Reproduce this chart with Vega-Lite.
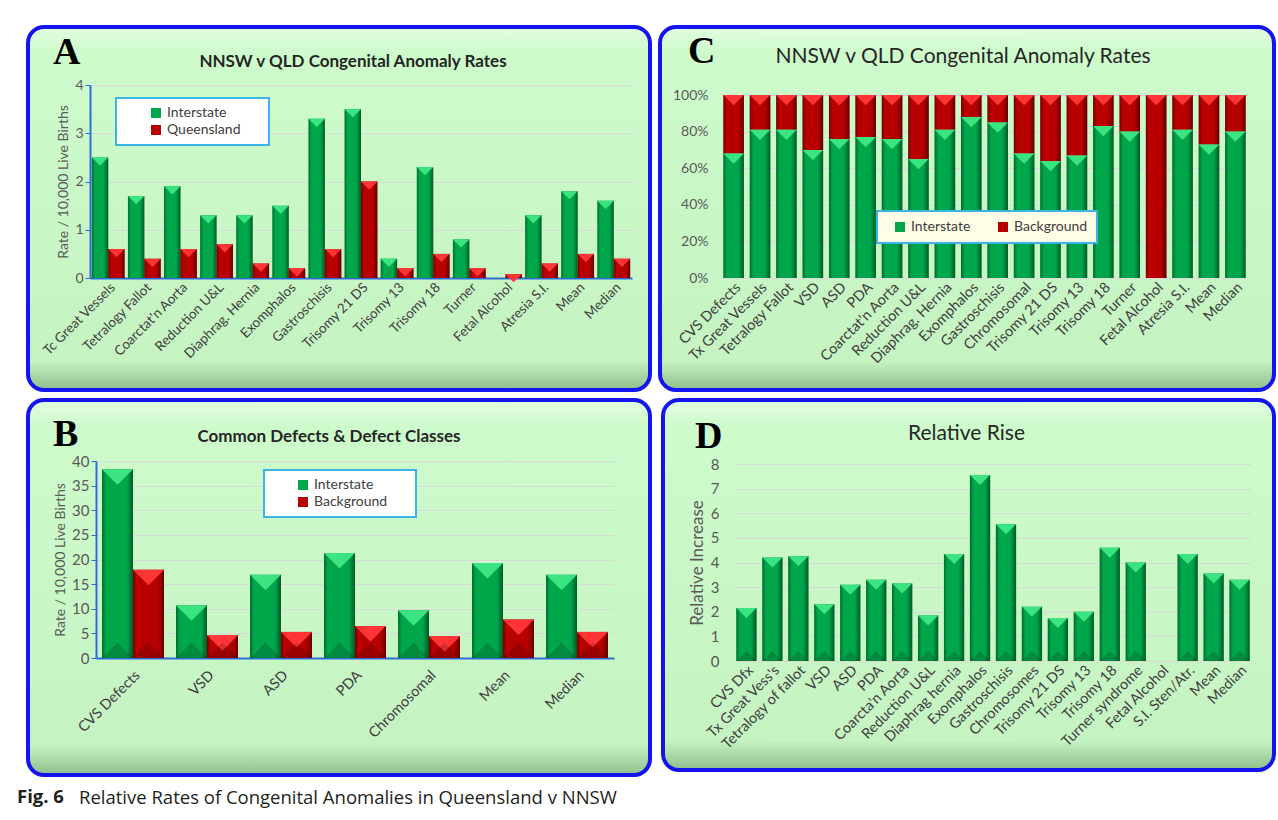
{
  "$schema": "https://vega.github.io/schema/vega-lite/v6.json",
  "background": "white",
  "padding": {"left": 17, "top": 25, "right": 0, "bottom": 0},
  "config": {
    "view": {
      "fill": {"gradient": "linear", "x1": 0, "y1": 0, "x2": 0, "y2": 1,
        "stops": [{"offset": 0, "color": "#e2fde0"}, {"offset": 0.07, "color": "#cefbcb"}, {"offset": 0.92, "color": "#c6f3c2"}, {"offset": 1, "color": "#8fbd8b"}]},
      "stroke": "#1414f0", "strokeWidth": 4, "cornerRadius": 16
    },
    "axis": {"labelFont": "Lato", "titleFont": "Lato", "labelColor": "#595959", "titleColor": "#595959", "titleFontWeight": "normal", "gridColor": "#d9d9d9", "labelFontSize": 14, "titleFontSize": 14},
    "axisX": {"labelAngle": -45, "ticks": false, "grid": false, "labelColor": "#404040", "labelFontSize": 13.5, "title": null},
    "legend": {"orient": "none", "title": null, "fillColor": "white", "strokeColor": "#3db4e6", "strokeWidth": 2, "padding": 8, "labelFont": "Lato", "labelFontSize": 14, "labelColor": "#404040", "symbolType": "square", "symbolSize": 100, "rowPadding": 3, "symbolStrokeWidth": 0},
    "title": {"font": "Lato", "color": "#262626"}
  },
  "datasets": {
    "rates": [
      {"cat": "Tc Great Vessels", "series": "Interstate", "value": 2.5},
      {"cat": "Tc Great Vessels", "series": "Queensland", "value": 0.6},
      {"cat": "Tetralogy Fallot", "series": "Interstate", "value": 1.7},
      {"cat": "Tetralogy Fallot", "series": "Queensland", "value": 0.4},
      {"cat": "Coarctat'n Aorta", "series": "Interstate", "value": 1.9},
      {"cat": "Coarctat'n Aorta", "series": "Queensland", "value": 0.6},
      {"cat": "Reduction U&L", "series": "Interstate", "value": 1.3},
      {"cat": "Reduction U&L", "series": "Queensland", "value": 0.7},
      {"cat": "Diaphrag. Hernia", "series": "Interstate", "value": 1.3},
      {"cat": "Diaphrag. Hernia", "series": "Queensland", "value": 0.3},
      {"cat": "Exomphalos", "series": "Interstate", "value": 1.5},
      {"cat": "Exomphalos", "series": "Queensland", "value": 0.2},
      {"cat": "Gastroschisis", "series": "Interstate", "value": 3.3},
      {"cat": "Gastroschisis", "series": "Queensland", "value": 0.6},
      {"cat": "Trisomy 21 DS", "series": "Interstate", "value": 3.5},
      {"cat": "Trisomy 21 DS", "series": "Queensland", "value": 2.0},
      {"cat": "Trisomy 13", "series": "Interstate", "value": 0.4},
      {"cat": "Trisomy 13", "series": "Queensland", "value": 0.2},
      {"cat": "Trisomy 18", "series": "Interstate", "value": 2.3},
      {"cat": "Trisomy 18", "series": "Queensland", "value": 0.5},
      {"cat": "Turner", "series": "Interstate", "value": 0.8},
      {"cat": "Turner", "series": "Queensland", "value": 0.2},
      {"cat": "Fetal Alcohol", "series": "Interstate", "value": 0},
      {"cat": "Fetal Alcohol", "series": "Queensland", "value": 0.08},
      {"cat": "Atresia S.I.", "series": "Interstate", "value": 1.3},
      {"cat": "Atresia S.I.", "series": "Queensland", "value": 0.3},
      {"cat": "Mean", "series": "Interstate", "value": 1.8},
      {"cat": "Mean", "series": "Queensland", "value": 0.5},
      {"cat": "Median", "series": "Interstate", "value": 1.6},
      {"cat": "Median", "series": "Queensland", "value": 0.4}
    ],
    "common": [
      {"cat": "CVS Defects", "series": "Interstate", "value": 38.3},
      {"cat": "CVS Defects", "series": "Background", "value": 17.9},
      {"cat": "VSD", "series": "Interstate", "value": 10.7},
      {"cat": "VSD", "series": "Background", "value": 4.6},
      {"cat": "ASD", "series": "Interstate", "value": 16.9},
      {"cat": "ASD", "series": "Background", "value": 5.3},
      {"cat": "PDA", "series": "Interstate", "value": 21.3},
      {"cat": "PDA", "series": "Background", "value": 6.5},
      {"cat": "Chromosomal", "series": "Interstate", "value": 9.7},
      {"cat": "Chromosomal", "series": "Background", "value": 4.4},
      {"cat": "Mean", "series": "Interstate", "value": 19.3},
      {"cat": "Mean", "series": "Background", "value": 7.8},
      {"cat": "Median", "series": "Interstate", "value": 16.9},
      {"cat": "Median", "series": "Background", "value": 5.3}
    ],
    "share": [
      {"cat": "CVS Defects", "series": "Interstate", "value": 68},
      {"cat": "CVS Defects", "series": "Background", "value": 32},
      {"cat": "Tx Great Vessels", "series": "Interstate", "value": 81},
      {"cat": "Tx Great Vessels", "series": "Background", "value": 19},
      {"cat": "Tetralogy Fallot", "series": "Interstate", "value": 81},
      {"cat": "Tetralogy Fallot", "series": "Background", "value": 19},
      {"cat": "VSD", "series": "Interstate", "value": 70},
      {"cat": "VSD", "series": "Background", "value": 30},
      {"cat": "ASD", "series": "Interstate", "value": 76},
      {"cat": "ASD", "series": "Background", "value": 24},
      {"cat": "PDA", "series": "Interstate", "value": 77},
      {"cat": "PDA", "series": "Background", "value": 23},
      {"cat": "Coarctat'n Aorta", "series": "Interstate", "value": 76},
      {"cat": "Coarctat'n Aorta", "series": "Background", "value": 24},
      {"cat": "Reduction U&L", "series": "Interstate", "value": 65},
      {"cat": "Reduction U&L", "series": "Background", "value": 35},
      {"cat": "Diaphrag. Hernia", "series": "Interstate", "value": 81},
      {"cat": "Diaphrag. Hernia", "series": "Background", "value": 19},
      {"cat": "Exomphalos", "series": "Interstate", "value": 88},
      {"cat": "Exomphalos", "series": "Background", "value": 12},
      {"cat": "Gastroschisis", "series": "Interstate", "value": 85},
      {"cat": "Gastroschisis", "series": "Background", "value": 15},
      {"cat": "Chromosomal", "series": "Interstate", "value": 68},
      {"cat": "Chromosomal", "series": "Background", "value": 32},
      {"cat": "Trisomy 21 DS", "series": "Interstate", "value": 64},
      {"cat": "Trisomy 21 DS", "series": "Background", "value": 36},
      {"cat": "Trisomy 13", "series": "Interstate", "value": 67},
      {"cat": "Trisomy 13", "series": "Background", "value": 33},
      {"cat": "Trisomy 18", "series": "Interstate", "value": 83},
      {"cat": "Trisomy 18", "series": "Background", "value": 17},
      {"cat": "Turner", "series": "Interstate", "value": 80},
      {"cat": "Turner", "series": "Background", "value": 20},
      {"cat": "Fetal Alcohol", "series": "Interstate", "value": 0},
      {"cat": "Fetal Alcohol", "series": "Background", "value": 100},
      {"cat": "Atresia S.I.", "series": "Interstate", "value": 81},
      {"cat": "Atresia S.I.", "series": "Background", "value": 19},
      {"cat": "Mean", "series": "Interstate", "value": 73},
      {"cat": "Mean", "series": "Background", "value": 27},
      {"cat": "Median", "series": "Interstate", "value": 80},
      {"cat": "Median", "series": "Background", "value": 20}
    ],
    "rise": [
      {"cat": "CVS Dfx", "value": 2.15},
      {"cat": "Tx Great Vess's", "value": 4.2},
      {"cat": "Tetralogy of fallot", "value": 4.25},
      {"cat": "VSD", "value": 2.3},
      {"cat": "ASD", "value": 3.1},
      {"cat": "PDA", "value": 3.3},
      {"cat": "Coarcta'n Aorta", "value": 3.15},
      {"cat": "Reduction U&L", "value": 1.85},
      {"cat": "Diaphrag hernia", "value": 4.35},
      {"cat": "Exomphalos", "value": 7.55},
      {"cat": "Gastroschisis", "value": 5.55},
      {"cat": "Chromosomes", "value": 2.2},
      {"cat": "Trisomy 21 DS", "value": 1.75},
      {"cat": "Trisomy 13", "value": 2.0},
      {"cat": "Trisomy 18", "value": 4.6},
      {"cat": "Turner syndrome", "value": 4.0},
      {"cat": "Fetal Alcohol", "value": 0},
      {"cat": "S.I. Sten/Atr.", "value": 4.35},
      {"cat": "Mean", "value": 3.55},
      {"cat": "Median", "value": 3.3}
    ]
  },
  "title": {"text": "Fig. 6", "orient": "bottom", "anchor": "start", "dx": -9, "dy": -20, "offset": 0, "font": "Open Sans", "fontSize": 18.5, "fontWeight": "bold", "color": "#231f20"},
  "spacing": 6,
  "resolve": {"scale": {"color": "independent", "fill": "independent"}, "legend": {"color": "independent"}},
  "vconcat": [
    {
      "spacing": 6,
      "resolve": {"scale": {"color": "independent", "fill": "independent"}, "legend": {"color": "independent"}},
      "hconcat": [
        {
          "title": {"text": "A", "anchor": "start", "offset": -47, "dx": 27, "font": "Liberation Serif", "fontSize": 38, "fontWeight": "bold", "color": "black"},
          "vconcat": [
            {
              "width": 622,
              "height": 363,
              "title": {"text": "NNSW v QLD Congenital Anomaly Rates", "fontWeight": "bold", "fontSize": 17, "offset": -44, "dx": 14},
              "data": {"name": "rates"},
              "encoding": {
                "x": {"field": "cat", "type": "nominal", "sort": null, "scale": {"range": [62, 604], "paddingInner": 0.09, "paddingOuter": 0.05}, "axis": {"offset": -112, "domainColor": "#2f6ed8", "domainWidth": 2}},
                "y": {"field": "value", "type": "quantitative", "scale": {"domain": [0, 4], "range": [251, 58], "nice": false}, "axis": {"title": "Rate / 10,000 Live Births", "tickCount": 4, "offset": -62, "domainColor": "#2f6ed8", "domainWidth": 2, "tickColor": "#2f6ed8", "tickSize": 5}}
              },
              "layer": [
                {
                  "transform": [{"filter": "datum.series == 'Interstate'"}],
                  "mark": {"type": "bar", "width": 16.4, "xOffset": -8.2},
                  "encoding": {
                    "color": {"field": "series", "type": "nominal", "scale": {"domain": ["Interstate", "Queensland"], "range": ["#00a64a", "#b80000"]},
                      "legend": {"legendX": 88, "legendY": 71, "symbolOffset": 25, "labelExpr": "datum.label + '\u2800\u2800'"}}
                  }
                },
                {
                  "transform": [{"filter": "datum.series == 'Queensland'"}],
                  "mark": {"type": "bar", "width": 16.4, "xOffset": 8.2},
                  "encoding": {"color": {"field": "series", "type": "nominal"}}
                },
                {
                  "transform": [{"filter": "datum.series == 'Interstate'"}],
                  "mark": {"type": "bar", "width": 16.4, "xOffset": -8.2, "color": {"gradient": "linear", "x1": 0, "y1": 0, "x2": 1, "y2": 0, "stops": [{"offset": 0, "color": "rgba(0,0,0,0.35)"}, {"offset": 0.18, "color": "rgba(0,0,0,0)"}, {"offset": 0.72, "color": "rgba(0,0,0,0)"}, {"offset": 1, "color": "rgba(0,0,0,0.45)"}]}}
                },
                {
                  "transform": [{"filter": "datum.series == 'Queensland'"}],
                  "mark": {"type": "bar", "width": 16.4, "xOffset": 8.2, "color": {"gradient": "linear", "x1": 0, "y1": 0, "x2": 1, "y2": 0, "stops": [{"offset": 0, "color": "rgba(0,0,0,0.35)"}, {"offset": 0.18, "color": "rgba(0,0,0,0)"}, {"offset": 0.72, "color": "rgba(0,0,0,0)"}, {"offset": 1, "color": "rgba(0,0,0,0.45)"}]}}
                },
                {
                  "transform": [{"filter": "datum.series == 'Interstate' && datum.value > 0"}],
                  "mark": {"type": "point", "shape": "M-1,0L1,0L0,1Z", "filled": true, "size": 269, "opacity": 1, "strokeWidth": 0, "xOffset": -8.2, "color": "#3ae481"}
                },
                {
                  "transform": [{"filter": "datum.series == 'Queensland' && datum.value > 0"}],
                  "mark": {"type": "point", "shape": "M-1,0L1,0L0,1Z", "filled": true, "size": 269, "opacity": 1, "strokeWidth": 0, "xOffset": 8.2, "color": "#ff3535"}
                }
              ]
            }
          ]
        },
        {
          "title": {"text": "C", "anchor": "start", "offset": -46, "dx": 30, "font": "Liberation Serif", "fontSize": 38, "fontWeight": "bold", "color": "black"},
          "vconcat": [
            {
              "width": 614,
              "height": 363,
              "title": {"text": "NNSW v QLD Congenital Anomaly Rates", "fontWeight": "normal", "fontSize": 21, "offset": -40, "dx": -4},
              "data": {"name": "share"},
              "transform": [
                {"stack": "value", "groupby": ["cat"], "sort": [{"field": "series", "order": "descending"}], "offset": "normalize", "as": ["y0", "y1"]}
              ],
              "encoding": {
                "x": {"field": "cat", "type": "nominal", "sort": null, "scale": {"range": [62, 587], "paddingInner": 0.22, "paddingOuter": 0.05}, "axis": {"offset": -112, "domainColor": "#d9d9d9", "labelFontSize": 14.5}},
                "y": {"field": "y1", "type": "quantitative", "scale": {"domain": [0, 1], "range": [251, 68], "nice": false}, "axis": {"title": null, "format": ".0%", "tickCount": 5, "offset": -62, "domain": false, "ticks": false, "labelPadding": 14, "gridColor": "#e2d4e0"}}
              },
              "layer": [
                {
                  "mark": {"type": "bar"},
                  "encoding": {
                    "y2": {"field": "y0"},
                    "color": {"field": "series", "type": "nominal", "scale": {"domain": ["Interstate", "Background"], "range": ["#00a64a", "#b80000"]},
                      "legend": {"direction": "horizontal", "legendX": 217, "legendY": 184, "fillColor": "#fffde6", "symbolOffset": 7, "columnPadding": 18, "padding": 9}}
                  }
                },
                {
                  "mark": {"type": "bar", "color": {"gradient": "linear", "x1": 0, "y1": 0, "x2": 1, "y2": 0, "stops": [{"offset": 0, "color": "rgba(0,0,0,0.35)"}, {"offset": 0.18, "color": "rgba(0,0,0,0)"}, {"offset": 0.72, "color": "rgba(0,0,0,0)"}, {"offset": 1, "color": "rgba(0,0,0,0.45)"}]}},
                  "encoding": {"y2": {"field": "y0"}}
                },
                {
                  "transform": [{"filter": "datum.value > 0"}],
                  "mark": {"type": "point", "shape": "M-1,0L1,0L0,1Z", "filled": true, "size": 420, "opacity": 1, "strokeWidth": 0},
                  "encoding": {"fill": {"field": "series", "type": "nominal", "scale": {"domain": ["Interstate", "Background"], "range": ["#3ae481", "#ff3535"]}, "legend": null}}
                }
              ]
            }
          ]
        }
      ]
    },
    {
      "spacing": 9,
      "resolve": {"scale": {"color": "independent", "fill": "independent"}, "legend": {"color": "independent"}},
      "title": {"text": "Relative Rates of Congenital Anomalies in Queensland v NNSW", "orient": "bottom", "anchor": "start", "dx": 53, "offset": 12, "font": "Open Sans", "fontSize": 18.5, "fontWeight": "normal", "color": "#231f20"},
      "hconcat": [
        {
          "title": {"text": "B", "anchor": "start", "offset": -56, "dx": 27, "font": "Liberation Serif", "fontSize": 38, "fontWeight": "bold", "color": "black"},
          "vconcat": [
            {
              "width": 622,
              "height": 375,
              "title": {"text": "Common  Defects & Defect Classes", "fontWeight": "bold", "fontSize": 17, "offset": -46, "dx": -10},
              "data": {"name": "common"},
              "encoding": {
                "x": {"field": "cat", "type": "nominal", "sort": null, "scale": {"range": [68, 586], "paddingInner": 0.16, "paddingOuter": 0.08}, "axis": {"offset": -117, "domainColor": "#2f6ed8", "domainWidth": 2, "labelPadding": 10, "labelFontSize": 14.5}},
                "y": {"field": "value", "type": "quantitative", "scale": {"domain": [0, 40], "range": [258, 61], "nice": false}, "axis": {"title": "Rate / 10,000 Live Births", "tickCount": 8, "offset": -68, "domainColor": "#2f6ed8", "domainWidth": 2, "tickColor": "#2f6ed8", "tickSize": 5, "labelFontSize": 15}}
              },
              "layer": [
                {
                  "transform": [{"filter": "datum.series == 'Interstate'"}],
                  "mark": {"type": "bar", "width": 31, "xOffset": -15.5},
                  "encoding": {
                    "color": {"field": "series", "type": "nominal", "scale": {"domain": ["Interstate", "Background"], "range": ["#00a64a", "#b80000"]},
                      "legend": {"legendX": 236, "legendY": 70, "symbolOffset": 24, "labelExpr": "datum.label + '\u2800\u2800'"}}
                  }
                },
                {
                  "transform": [{"filter": "datum.series == 'Background'"}],
                  "mark": {"type": "bar", "width": 31, "xOffset": 15.5},
                  "encoding": {"color": {"field": "series", "type": "nominal"}}
                },
                {
                  "transform": [{"filter": "datum.series == 'Interstate'"}],
                  "mark": {"type": "bar", "width": 31, "xOffset": -15.5, "color": {"gradient": "linear", "x1": 0, "y1": 0, "x2": 1, "y2": 0, "stops": [{"offset": 0, "color": "rgba(0,0,0,0.35)"}, {"offset": 0.12, "color": "rgba(0,0,0,0)"}, {"offset": 0.8, "color": "rgba(0,0,0,0)"}, {"offset": 1, "color": "rgba(0,0,0,0.45)"}]}}
                },
                {
                  "transform": [{"filter": "datum.series == 'Background'"}],
                  "mark": {"type": "bar", "width": 31, "xOffset": 15.5, "color": {"gradient": "linear", "x1": 0, "y1": 0, "x2": 1, "y2": 0, "stops": [{"offset": 0, "color": "rgba(0,0,0,0.35)"}, {"offset": 0.12, "color": "rgba(0,0,0,0)"}, {"offset": 0.8, "color": "rgba(0,0,0,0)"}, {"offset": 1, "color": "rgba(0,0,0,0.45)"}]}}
                },
                {
                  "transform": [{"filter": "datum.series == 'Interstate'"}],
                  "mark": {"type": "point", "shape": "M-1,0L1,0L0,1Z", "filled": true, "size": 961, "opacity": 1, "strokeWidth": 0, "xOffset": -15.5, "color": "#3ae481"}
                },
                {
                  "transform": [{"filter": "datum.series == 'Background'"}],
                  "mark": {"type": "point", "shape": "M-1,0L1,0L0,1Z", "filled": true, "size": 961, "opacity": 1, "strokeWidth": 0, "xOffset": 15.5, "color": "#ff3535"}
                },
                {
                  "transform": [{"filter": "datum.series == 'Interstate'"}],
                  "mark": {"type": "point", "shape": "M-1,0L1,0L0,-1Z", "filled": true, "size": 961, "opacity": 0.16, "strokeWidth": 0, "xOffset": -15.5, "color": "black"},
                  "encoding": {"y": {"datum": 0}}
                },
                {
                  "transform": [{"filter": "datum.series == 'Background'"}],
                  "mark": {"type": "point", "shape": "M-1,0L1,0L0,-1Z", "filled": true, "size": 961, "opacity": 0.16, "strokeWidth": 0, "xOffset": 15.5, "color": "black"},
                  "encoding": {"y": {"datum": 0}}
                }
              ]
            }
          ]
        },
        {
          "title": {"text": "D", "anchor": "start", "offset": -58, "dx": 34, "font": "Liberation Serif", "fontSize": 38, "fontWeight": "bold", "color": "black"},
          "vconcat": [
            {
              "width": 611,
              "height": 370,
              "title": {"text": "Relative Rise", "fontWeight": "normal", "fontSize": 21, "offset": -44, "dx": -2},
              "data": {"name": "rise"},
              "encoding": {
                "x": {"field": "cat", "type": "nominal", "sort": null, "scale": {"range": [72, 588], "paddingInner": 0.22, "paddingOuter": 0.05}, "axis": {"offset": -109, "domain": false, "labelFontSize": 14.5}},
                "y": {"field": "value", "type": "quantitative", "scale": {"domain": [0, 8], "range": [261, 64], "nice": false}, "axis": {"title": "Relative Increase", "tickCount": 8, "offset": -70, "domain": false, "ticks": false, "labelPadding": 14, "titleFontSize": 17, "labelFontSize": 15}}
              },
              "layer": [
                {"mark": {"type": "bar", "color": "#00a64a"}},
                {
                  "mark": {"type": "bar", "color": {"gradient": "linear", "x1": 0, "y1": 0, "x2": 1, "y2": 0, "stops": [{"offset": 0, "color": "rgba(0,0,0,0.35)"}, {"offset": 0.18, "color": "rgba(0,0,0,0)"}, {"offset": 0.72, "color": "rgba(0,0,0,0)"}, {"offset": 1, "color": "rgba(0,0,0,0.45)"}]}}
                },
                {
                  "transform": [{"filter": "datum.value > 0"}],
                  "mark": {"type": "point", "shape": "M-1,0L1,0L0,1Z", "filled": true, "size": 400, "opacity": 1, "strokeWidth": 0, "color": "#3ae481"}
                },
                {
                  "transform": [{"filter": "datum.value > 0"}],
                  "mark": {"type": "point", "shape": "M-1,0L1,0L0,-1Z", "filled": true, "size": 400, "opacity": 0.16, "strokeWidth": 0, "color": "black"},
                  "encoding": {"y": {"datum": 0}}
                }
              ]
            }
          ]
        }
      ]
    }
  ]
}
